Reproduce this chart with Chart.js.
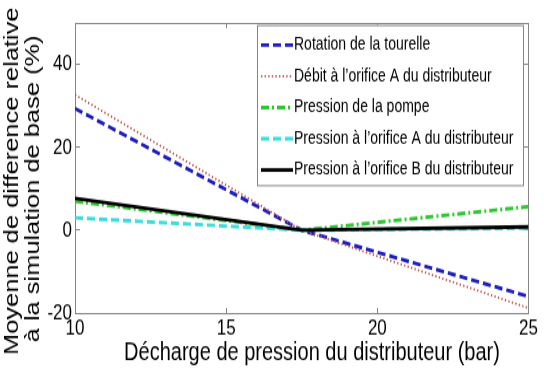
<!DOCTYPE html>
<html>
<head>
<meta charset="utf-8">
<title>Décharge de pression du distributeur</title>
<script src="https://cdn.jsdelivr.net/npm/chart.js@4.4.1/dist/chart.umd.min.js"></script>
<style>
  html, body { margin: 0; padding: 0; background: #fff; }
</style>
</head>
<body>
<!-- the reference is stretched vertically, so the bitmap is drawn shorter and scaled up -->
<canvas id="chart" width="544" height="290" style="display:block;width:544px;height:369px"></canvas>
<script>
// valeurs
const pressionDecharge = [10, 17.5, 25];
const rotationTourelle = [29.4, 0, -16];
const debitOrificeA = [32.7, 0, -18.8];
const pressionPompe = [7, 0, 5.7];
const pressionOrificeA = [3, 0, 0.5];
const pressionOrificeB = [7.7, 0, 0.8];

const seriesLabels = [
    'Rotation de la tourelle',
    'Débit à l\u2019orifice A du distributeur',
    'Pression de la pompe',
    'Pression à l\u2019orifice A du distributeur',
    'Pression à l\u2019orifice B du distributeur'
];
const xTicks = [10, 15, 20, 25];
const yTicks = [-20, 0, 20, 40];
const xTitle = 'Décharge de pression du distributeur (bar)';
const yTitleLines = ['Moyenne de difference relative', 'à la simulation de base (%)'];

const FONT = '"Liberation Sans", Arial, Helvetica, sans-serif';
const AXIS_GREY = '#858585';

Chart.defaults.font.family = FONT;
Chart.defaults.color = '#000';

const toPoints = (values) => values.map((v, i) => ({ x: pressionDecharge[i], y: v }));

function serie(label, values, color, width, dash, order) {
    return {
        label: label,
        data: toPoints(values),
        borderColor: color,
        backgroundColor: color,
        borderWidth: width,
        borderDash: dash,
        pointRadius: 0,
        fill: false,
        tension: 0,
        order: order
    };
}

// légende dans le cadre + titres des axes placés comme sur la figure
const overlay = {
    id: 'overlay',
    afterDraw(chart) {
        const ctx = chart.ctx;
        ctx.save();

        const bx = 257, by = 19.6, bw = 266, bh = 125.8;
        ctx.fillStyle = '#fff';
        ctx.fillRect(bx, by, bw, bh);
        ctx.strokeStyle = AXIS_GREY;
        ctx.lineWidth = 1;
        ctx.strokeRect(bx + 0.5, by + 0.5, bw, bh);

        ctx.font = '14px ' + FONT;
        ctx.textBaseline = 'middle';
        ctx.textAlign = 'left';
        chart.data.datasets.forEach((ds, i) => {
            const y = by + 15.8 + i * 24.55;
            ctx.setLineDash(ds.borderDash || []);
            ctx.strokeStyle = ds.borderColor;
            ctx.lineWidth = ds.borderWidth;
            ctx.beginPath();
            ctx.moveTo(bx + 4, y);
            ctx.lineTo(bx + 36, y);
            ctx.stroke();
            ctx.setLineDash([]);
            ctx.fillStyle = '#000';
            ctx.fillText(ds.label, bx + 37, y);
        });

        // titre axe x
        ctx.font = '20px ' + FONT;
        ctx.textAlign = 'center';
        ctx.textBaseline = 'alphabetic';
        ctx.fillText(xTitle, 312, 283);

        // titre axe y, deux lignes
        ctx.textAlign = 'left';
        const starts = [[18.3, 279], [38.5, 269]];
        yTitleLines.forEach((line, i) => {
            ctx.save();
            ctx.translate(starts[i][0], starts[i][1]);
            ctx.rotate(-Math.PI / 2);
            ctx.fillText(line, 0, 0);
            ctx.restore();
        });

        ctx.restore();
    }
};

const gridOpts = (len) => ({ drawOnChartArea: false, drawTicks: true, tickLength: len, color: AXIS_GREY, lineWidth: 1 });
const borderOpts = { display: true, color: AXIS_GREY, width: 1 };

new Chart(document.getElementById('chart'), {
    type: 'line',
    data: {
        datasets: [
            serie(seriesLabels[0], rotationTourelle, '#1e1ebe', 2.9, [8, 4], 4),
            serie(seriesLabels[1], debitOrificeA, '#c2564e', 1.8, [1.4, 2.2], 3),
            serie(seriesLabels[2], pressionPompe, '#30c830', 2.9, [8, 3, 2, 3], 2),
            serie(seriesLabels[3], pressionOrificeA, '#3ddcdc', 2.9, [8, 4], 1),
            serie(seriesLabels[4], pressionOrificeB, '#000000', 2.9, [], 0)
        ]
    },
    options: {
        responsive: false,
        animation: false,
        devicePixelRatio: 1,
        layout: { padding: { top: 12.6, right: 14, bottom: 0, left: 0 } },
        plugins: {
            legend: { display: false },
            tooltip: { enabled: false }
        },
        scales: {
            x: {
                type: 'linear',
                position: 'bottom',
                min: 10,
                max: 25,
                afterBuildTicks: (s) => { s.ticks = xTicks.map(v => ({ value: v })); },
                afterFit: (s) => { s.height = 44; },
                ticks: { font: { size: 17 }, color: '#000', padding: 6, maxRotation: 0 },
                grid: gridOpts(-4),
                border: borderOpts
            },
            x2: {
                type: 'linear',
                position: 'top',
                min: 10,
                max: 25,
                afterBuildTicks: (s) => { s.ticks = xTicks.map(v => ({ value: v })); },
                afterFit: (s) => { s.height = 0; },
                ticks: { display: false },
                grid: gridOpts(-4),
                border: borderOpts
            },
            y: {
                type: 'linear',
                position: 'left',
                min: -20,
                max: 50,
                afterBuildTicks: (s) => { s.ticks = yTicks.map(v => ({ value: v })); },
                afterFit: (s) => { s.width = 75; },
                ticks: { font: { size: 17 }, color: '#000', padding: 8 },
                grid: gridOpts(-5),
                border: borderOpts
            },
            y2: {
                type: 'linear',
                position: 'right',
                min: -20,
                max: 50,
                afterBuildTicks: (s) => { s.ticks = yTicks.map(v => ({ value: v })); },
                afterFit: (s) => { s.width = 0; },
                ticks: { display: false },
                grid: gridOpts(-5),
                border: borderOpts
            }
        }
    },
    plugins: [overlay]
});
</script>
</body>
</html>
